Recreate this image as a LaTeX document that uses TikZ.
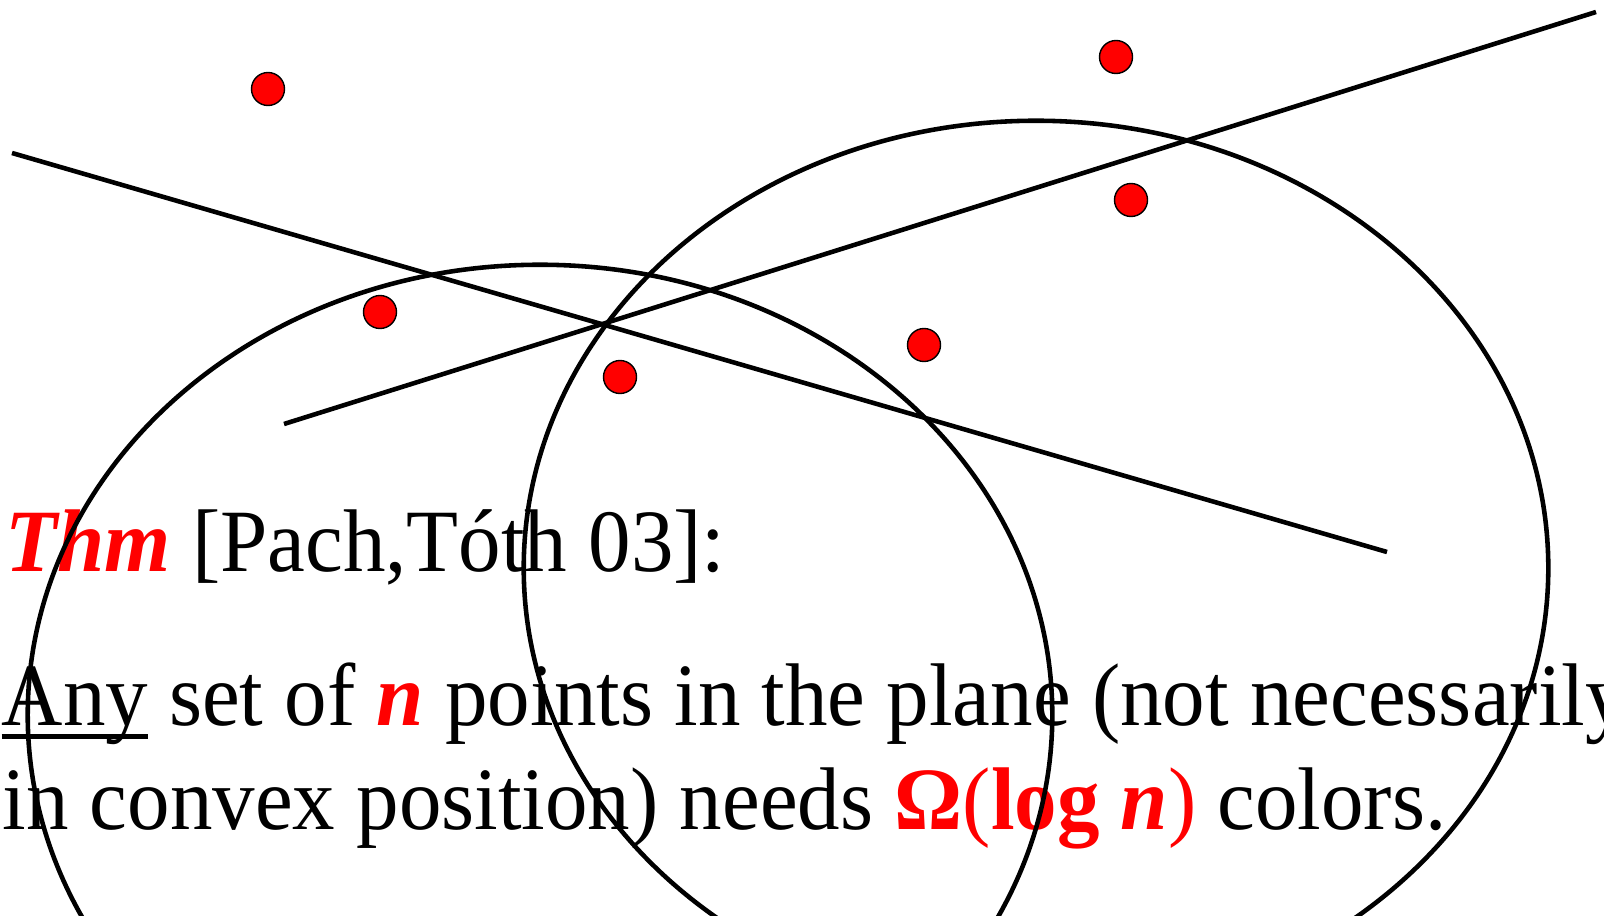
\documentclass[tikz,border=0pt]{standalone}
\usepackage{fontspec}
\setmainfont{Liberation Serif}[FakeStretch=0.955]
\newcommand\ulword[1]{\leavevmode\setbox0\hbox{#1}\rlap{\rule[-0.152em]{\wd0}{0.056em}}\box0{}}
\begin{document}
\begin{tikzpicture}[x=0.01cm,y=-0.01cm,
  pt/.style={circle,draw=black,line width=0.4pt,fill=red,minimum size=0.33cm,inner sep=0pt},
  stroke/.style={line width=1.3pt,black},
  txt/.style={anchor=base west,inner sep=0pt,font=\fontsize{25.3}{30}\selectfont}]
\useasboundingbox (0,0) rectangle (1604,916);
% text
\node[txt] (thm) at (5,571) {\textcolor{red}{\bfseries\itshape Thm} [Pach,Tóth 03]:};
\node[txt] (l1) at (1,725) {\ulword{Any} set of \textcolor{red}{\bfseries\itshape n} points in the plane (not necessarily};
\node[txt] (l2) at (2,829) {in convex position) needs \textcolor{red}{{\bfseries Ω}(\textbf{log} {\bfseries\itshape n})} colors.};
% ellipses
\draw[stroke] (540,715) ellipse [x radius=5.12cm, y radius=4.5cm];
\draw[stroke] (1036,568) ellipse [x radius=5.12cm, y radius=4.47cm];
% lines
\coordinate (a1) at (12,153);
\coordinate (a2) at (1387,552);
\coordinate (b1) at (284,424);
\coordinate (b2) at (1596,12);
\draw[stroke] (a1) -- (a2);
\draw[stroke] (b1) -- (b2);
% points
\node[pt] (p1) at (268,89) {};
\node[pt] (p2) at (1116,57) {};
\node[pt] (p3) at (1131,200) {};
\node[pt] (p4) at (380,312) {};
\node[pt] (p5) at (620,377) {};
\node[pt] (p6) at (924,345) {};
\end{tikzpicture}
\end{document}
